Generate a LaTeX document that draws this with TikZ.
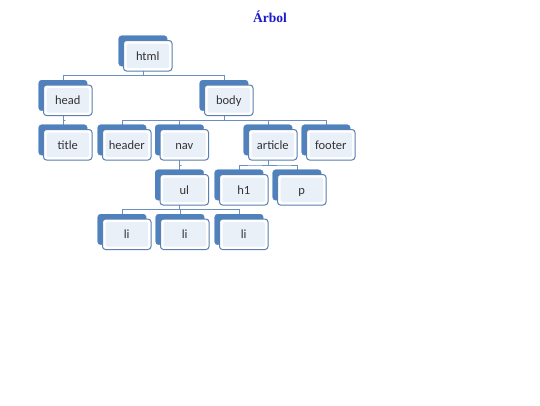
\documentclass[tikz,border=0pt]{standalone}
\usepackage{fontspec}
\setmainfont{Carlito}
\newfontfamily\titlefont{Liberation Serif}
\usetikzlibrary{backgrounds,calc}
\definecolor{accent}{HTML}{4F81BD}
\definecolor{frameline}{HTML}{5A7FB0}
\definecolor{connline}{HTML}{6A8FC0}
\definecolor{innerfill}{HTML}{EAF0F8}
\definecolor{titleblue}{HTML}{1A1ACC}
\tikzset{
  backbox/.style={fill=accent, draw=accent, rounded corners=3pt,
    minimum width=48.5pt, minimum height=30.5pt, anchor=north west, inner sep=0pt},
  frontbox/.style={fill=white, draw=frameline, line width=1pt, rounded corners=3pt,
    minimum width=48.5pt, minimum height=30.5pt, anchor=north west, inner sep=0pt,
    text height=10pt, text depth=1.5pt,
    font=\fontsize{12.5}{14}\selectfont, text=black!80,
    path picture={\fill[innerfill, rounded corners=1.5pt]
      ([shift={(3pt,3pt)}]path picture bounding box.south west) rectangle
      ([shift={(-3pt,-3pt)}]path picture bounding box.north east);}},
  conn/.style={draw=connline, line width=0.9pt},
  titlestyle/.style={font=\titlefont\bfseries\fontsize{13.5}{16}\selectfont, text=titleblue},
}
\newcommand\treenode[4]{%
  \node[backbox] (#1B) at (#2,#3) {};
  \node[frontbox] (#1) at ([shift={(4.5pt,-4.5pt)}]#1B.north west) {#4};}
\newcommand\linkto[2]{%
  \draw[conn] (#1B.center) |- ($(#1.south)!0.5!(#2B.north)$) -| (#2B.center);}
\begin{document}
\begin{tikzpicture}[x=1pt,y=-1pt]
\useasboundingbox (0,0) rectangle (540,405);
\node[titlestyle] (ttl) at (270,16.5) {Árbol};
\treenode{html}{118.5}{35.5}{html}
\treenode{head}{38.5}{80}{head}
\treenode{body}{199.5}{80}{body}
\treenode{title}{38.5}{124.5}{title}
\treenode{header}{97.5}{124.5}{header}
\treenode{nav}{155}{124.5}{nav}
\treenode{article}{243.5}{124.5}{article}
\treenode{footer}{301.5}{124.5}{footer}
\treenode{ul}{155}{169.5}{ul}
\treenode{hone}{214.5}{169.5}{h1}
\treenode{p}{272.5}{169.5}{p}
\treenode{lione}{97.5}{214}{li}
\treenode{litwo}{155.5}{214}{li}
\treenode{lithree}{214.5}{214}{li}
\begin{scope}[on background layer]
\fill[white] (0,0) rectangle (540,405);
\linkto{html}{head}
\linkto{html}{body}
\linkto{head}{title}
\linkto{body}{header}
\linkto{body}{nav}
\linkto{body}{article}
\linkto{body}{footer}
\linkto{nav}{ul}
\linkto{article}{hone}
\linkto{article}{p}
\linkto{ul}{lione}
\linkto{ul}{litwo}
\linkto{ul}{lithree}
\end{scope}
\end{tikzpicture}
\end{document}
